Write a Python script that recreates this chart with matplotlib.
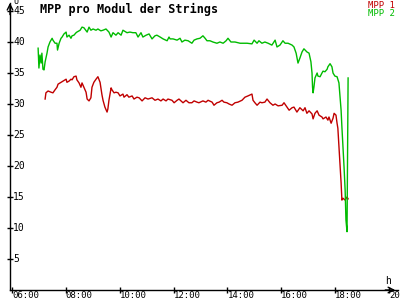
import matplotlib
matplotlib.use('Agg')
import matplotlib.pyplot as plt
import matplotlib.transforms as mtransforms

# ---- data (time in decimal hours, voltage per module) ----
mpp2_hours = [6.97, 7.00, 7.04, 7.08, 7.11, 7.15, 7.19, 7.23, 7.30, 7.34, 7.41, 7.49, 7.52,
              7.60, 7.67, 7.69, 7.75, 7.82, 7.86, 7.93, 8.01, 8.04, 8.12, 8.19, 8.23, 8.30,
              8.38, 8.41, 8.53, 8.60, 8.67, 8.79, 8.86, 8.93, 9.01, 9.12, 9.19, 9.30, 9.38,
              9.49, 9.60, 9.68, 9.75, 9.86, 9.94, 10.05, 10.12, 10.27, 10.38, 10.49, 10.60,
              10.68, 10.79, 10.86, 10.98, 11.09, 11.20, 11.31, 11.38, 11.50, 11.61, 11.76,
              11.83, 11.87, 11.98, 12.13, 12.24, 12.31, 12.42, 12.54, 12.68, 12.76, 12.87,
              12.98, 13.09, 13.17, 13.24, 13.35, 13.46, 13.61, 13.72, 13.84, 13.95, 14.02,
              14.13, 14.28, 14.47, 14.73, 14.91, 14.99, 15.10, 15.17, 15.28, 15.39, 15.51,
              15.65, 15.77, 15.84, 15.95, 16.06, 16.14, 16.25, 16.40, 16.47, 16.55, 16.62,
              16.69, 16.77, 16.84, 16.95, 17.03, 17.10, 17.14, 17.16, 17.18, 17.21, 17.25,
              17.33, 17.36, 17.44, 17.51, 17.55, 17.62, 17.70, 17.73, 17.81, 17.88, 17.92,
              17.99, 18.07, 18.14, 18.18, 18.22, 18.25, 18.29, 18.33, 18.37, 18.40, 18.44,
              18.48]
mpp2_volts = [39.0, 35.8, 37.9, 36.6, 38.2, 35.6, 35.5, 36.8, 38.2, 39.2, 40.0, 40.6, 40.3,
              39.8, 39.8, 38.7, 39.8, 40.6, 40.8, 41.3, 41.6, 40.8, 41.1, 40.6, 41.0, 41.1,
              41.5, 41.6, 41.9, 42.4, 42.3, 41.6, 42.4, 41.9, 42.1, 41.9, 42.1, 41.8, 41.9,
              42.1, 41.6, 40.8, 41.5, 41.1, 41.5, 41.1, 41.9, 41.5, 41.6, 41.5, 41.5,
              40.8, 41.5, 40.8, 41.1, 41.3, 40.5, 41.0, 41.1, 40.8, 40.5, 40.2,
              40.8, 40.5, 40.5, 40.3, 40.6, 40.0, 40.3, 40.2, 39.8, 40.3, 40.5,
              40.6, 41.0, 40.6, 40.2, 40.2, 40.0, 39.8, 40.0, 39.8, 40.2, 40.6,
              40.0, 40.0, 39.8, 39.8, 39.7, 40.3, 39.8, 40.2, 39.8, 40.0, 39.8,
              39.5, 40.3, 39.2, 39.5, 40.2, 39.8, 39.8, 39.5, 39.2, 38.2, 36.6,
              37.4, 38.4, 38.9, 38.4, 38.2, 36.8, 35.0, 32.7, 31.8, 32.7, 34.2,
              35.0, 34.5, 34.4, 35.0, 35.3, 35.2, 35.6, 36.0, 36.5, 36.0, 35.0,
              34.5, 34.4, 33.4, 31.1, 29.0, 26.3, 23.1, 19.8, 16.1, 11.3, 9.4,
              34.2]

mpp1_hours = [7.23, 7.26, 7.34, 7.45, 7.52, 7.60, 7.67, 7.71, 7.82, 7.89, 8.01, 8.04, 8.12,
              8.19, 8.23, 8.30, 8.38, 8.41, 8.49, 8.56, 8.60, 8.67, 8.75, 8.79, 8.86, 8.93,
              8.97, 9.04, 9.12, 9.19, 9.27, 9.34, 9.38, 9.45, 9.53, 9.56, 9.60, 9.68, 9.71,
              9.79, 9.86, 9.94, 10.01, 10.12, 10.16, 10.27, 10.34, 10.46, 10.53, 10.64,
              10.72, 10.83, 10.94, 11.05, 11.20, 11.31, 11.42, 11.53, 11.61, 11.72, 11.79,
              11.94, 12.02, 12.13, 12.20, 12.35, 12.46, 12.57, 12.68, 12.76, 12.87, 12.94,
              13.09, 13.20, 13.28, 13.43, 13.50, 13.61, 13.69, 13.80, 13.87, 13.98, 14.06,
              14.17, 14.28, 14.39, 14.54, 14.65, 14.76, 14.91, 14.95, 15.02, 15.10, 15.21,
              15.28, 15.39, 15.47, 15.58, 15.69, 15.77, 15.88, 16.03, 16.10, 16.21, 16.29,
              16.40, 16.47, 16.58, 16.69, 16.81, 16.88, 16.95, 17.03, 17.14, 17.18, 17.25,
              17.33, 17.40, 17.51, 17.55, 17.66, 17.73, 17.77, 17.85, 17.92, 17.96, 18.03,
              18.07, 18.10, 18.14, 18.18, 18.22, 18.25, 18.29, 18.37, 18.44, 18.48]
mpp1_volts = [30.8, 31.8, 32.1, 31.9, 31.8, 32.3, 32.7, 33.2, 33.5, 33.7, 34.0, 33.5, 33.7,
              34.0, 33.9, 34.4, 34.5, 33.9, 33.4, 32.7, 33.4, 32.7, 31.9, 30.8, 30.5, 31.0,
              32.7, 33.5, 34.0, 34.4, 33.5, 31.5, 30.6, 29.5, 28.7, 29.2, 30.6, 32.6, 32.3,
              31.8, 31.9, 31.8, 31.3, 31.6, 31.1, 31.5, 31.1, 31.3, 30.8, 31.1,
              31.0, 30.5, 31.0, 30.8, 31.0, 30.6, 30.8, 30.5, 30.8, 30.5, 30.8,
              30.6, 30.2, 30.6, 30.8, 30.2, 30.6, 30.2, 30.2, 30.5, 30.3, 30.2,
              30.5, 30.3, 30.6, 30.3, 29.8, 30.2, 30.3, 30.6, 30.3, 30.2, 30.0,
              29.8, 30.2, 30.3, 30.6, 31.1, 31.3, 31.6, 30.6, 30.2, 29.8, 30.3,
              30.2, 30.3, 30.8, 30.2, 29.8, 30.0, 29.7, 29.8, 30.2, 29.5, 29.0,
              29.4, 29.5, 28.7, 29.4, 28.9, 29.4, 28.5, 28.9, 28.4, 27.6, 28.5,
              28.9, 28.2, 27.9, 27.6, 27.9, 27.4, 27.9, 26.9, 27.7, 28.5, 28.2,
              26.9, 26.1, 23.1, 19.8, 17.3, 14.5, 14.8, 14.5, 15.0, 14.7]

x_ticks = [6, 8, 10, 12, 14, 16, 18, 20]
x_labels = ['06:00', '08:00', '10:00', '12:00', '14:00', '16:00', '18:00', '20:00']
y_ticks = [5, 10, 15, 20, 25, 30, 35, 40, 45]

RED = '#C00000'
GREEN = '#00BB00'
FONT = 'DejaVu Sans Mono'

fig = plt.figure(figsize=(4, 3), dpi=100, facecolor='white')
ax = fig.add_axes([10 / 400, 10 / 300, 388 / 400, 287 / 300])
ax.set_xlim(5.926, 20.333)
ax.set_ylim(0, 46.29)

ax.plot(mpp1_hours, mpp1_volts, color=RED, lw=1.0)
ax.plot(mpp2_hours, mpp2_volts, color=GREEN, lw=1.0)

# axes: only left/bottom with arrow heads
for s in ['top', 'right']:
    ax.spines[s].set_visible(False)
for s in ['left', 'bottom']:
    ax.spines[s].set_linewidth(1.0)
ax.annotate('', xy=(0, 1.01), xytext=(0, 0.95), xycoords='axes fraction',
            arrowprops=dict(arrowstyle='->', lw=1.0, color='black'), annotation_clip=False)
ax.annotate('', xy=(1.0, 0), xytext=(0.96, 0), xycoords='axes fraction',
            arrowprops=dict(arrowstyle='->', lw=1.0, color='black'), annotation_clip=False)

ax.set_xticks(x_ticks)
ax.set_yticks(y_ticks)
ax.set_xticklabels([])
ax.set_yticklabels([])
ax.tick_params(axis='both', direction='inout', length=5, width=1.0)

# tick labels drawn next to the ticks, as in the original
xoff = mtransforms.offset_copy(ax.get_xaxis_transform(), fig=fig, x=0, y=-8, units='dots')
for t, lab in zip(x_ticks, x_labels):
    ax.text(t, 0, lab, transform=xoff, ha='left', va='baseline', fontsize=6.5,
            family=FONT, clip_on=False)
yoff = mtransforms.offset_copy(ax.get_yaxis_transform(), fig=fig, x=3, y=0, units='dots')
for v in y_ticks:
    ax.text(0, v, str(v), transform=yoff, ha='left', va='center', fontsize=7,
            family=FONT, clip_on=False)

# axis unit labels
fig.text(13 / 400, 1 - 4 / 300, 'U', ha='left', va='baseline', fontsize=6, family=FONT)
fig.text(385 / 400, 1 - 284 / 300, 'h', ha='left', va='baseline', fontsize=7, family=FONT)

# title and legend
fig.text(40 / 400, 1 - 13 / 300, 'MPP pro Modul der Strings', ha='left', va='baseline',
         fontsize=8.5, fontweight='bold', family=FONT)
fig.text(395 / 400, 1 - 8 / 300, 'MPP 1', ha='right', va='baseline', fontsize=6.5,
         family=FONT, color=RED)
fig.text(395 / 400, 1 - 16 / 300, 'MPP 2', ha='right', va='baseline', fontsize=6.5,
         family=FONT, color=GREEN)

fig.savefig('out.png', dpi=100, facecolor='white')
